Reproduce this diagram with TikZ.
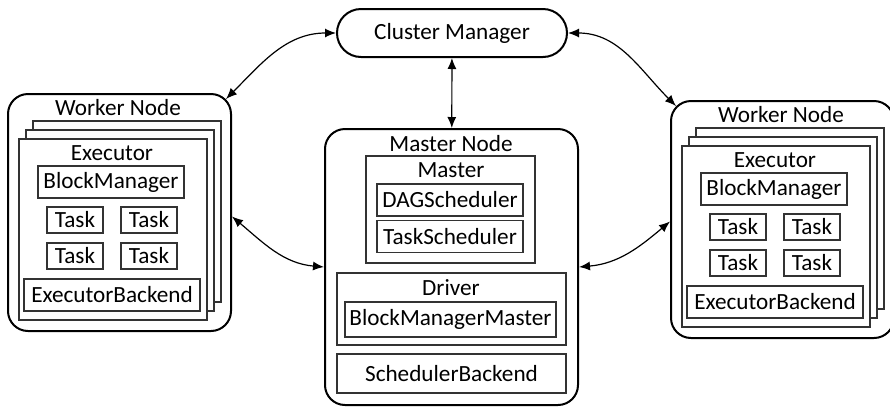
\documentclass[tikz,border=0pt]{standalone}
\usepackage{fontspec}
\setmainfont{Carlito}
\usetikzlibrary{arrows.meta,positioning,calc}

\begin{document}
\begin{tikzpicture}[
        x=0.5pt, y=0.5pt,
        font=\fontsize{11.6pt}{14pt}\selectfont,
        outer/.style={draw, line width=1pt, rounded corners=10pt, inner sep=0pt},
        page/.style={draw=black!80, fill=white, line width=0.6pt,
            minimum width=94pt, minimum height=90.5pt, inner sep=0pt},
        part/.style={draw=black!80, line width=0.6pt, inner sep=0pt, align=center},
        title/.style={inner sep=0pt},
        arrow/.style={{Latex[length=5.5pt,width=4.5pt]}-{Latex[length=5.5pt,width=4.5pt]},
            line width=0.6pt}
    ]
    \useasboundingbox (0,0) rectangle (890,-408);

    % worker nodes, the right one is a shifted copy of the left one
    \foreach \s/\dx/\dy in {l/0/0, r/663/-7}{
    \begin{scope}[shift={(\dx,\dy)}]
    \node[outer, minimum width=111.5pt, minimum height=118.5pt] (w\s) at (119.5,-212.5) {};
    \node[title] (w\s-title) at (118,-108) {Worker Node};
    % stacked executors
    \node[page] (w\s-p3) at (127,-211.5) {};
    \node[page] (w\s-p2) at (120,-220.5) {};
    \node[page] (w\s-p1) at (113,-229.5) {};
    \node[title] (w\s-exec) at (112,-153) {Executor};
    \node[part, minimum width=73pt, minimum height=16pt] (w\s-bm) at (111,-182) {BlockManager};
    \node[part, minimum width=28pt, minimum height=13pt] (w\s-t1) at (75,-220) {Task};
    \node[part, minimum width=28pt, minimum height=13pt] (w\s-t2) at (149,-220) {Task};
    \node[part, minimum width=28pt, minimum height=13pt] (w\s-t3) at (75,-256) {Task};
    \node[part, minimum width=28pt, minimum height=13pt] (w\s-t4) at (149,-256) {Task};
    \node[part, minimum width=88pt, minimum height=16pt] (w\s-eb) at (112,-295) {ExecutorBackend};
    \end{scope}}

    % master node
    \node[outer, minimum width=126.5pt, minimum height=138pt] (mn) at (451.5,-267) {};
    \node[title] (mn-title) at (451,-144) {Master Node};
    \node[part, minimum width=84.5pt, minimum height=53.5pt] (master) at (450.5,-209.5) {};
    \node[title] (master-title) at (451,-170) {Master};
    \node[part, minimum width=73pt, minimum height=16pt] (dag) at (450,-200) {DAGScheduler};
    \node[part, minimum width=73pt, minimum height=16pt] (ts) at (450,-236.5) {TaskScheduler};
    \node[part, minimum width=114.5pt, minimum height=36pt] (driver) at (451.5,-309) {};
    \node[title] (driver-title) at (451,-288) {Driver};
    \node[part, minimum width=105.5pt, minimum height=17.5pt] (bmm) at (450.5,-319.5) {BlockManagerMaster};
    \node[part, minimum width=114.5pt, minimum height=19.5pt] (sb) at (451.5,-373.5) {SchedulerBackend};

    % cluster manager
    \node[outer, rounded corners=12pt, minimum width=115pt, minimum height=24pt] (cm) at (452,-33) {Cluster Manager};

    \coordinate (wl-corner) at ($(wl.north east)+(-6,-6)$);
    \coordinate (wr-corner) at ($(wr.north west)+(6,-6)$);

    \draw[arrow] (cm.west) to[out=180, in=45] (wl-corner);
    \draw[arrow] (cm.east) to[out=0, in=135] (wr-corner);
    \draw[arrow] (cm) -- (mn);
    \draw[arrow] ([yshift=-2pt]wl.east) to[out=-40, in=175] (mn.west);
    \draw[arrow] (mn.east) to[out=5, in=220] ([yshift=-1pt]wr.west);
\end{tikzpicture}
\end{document}
